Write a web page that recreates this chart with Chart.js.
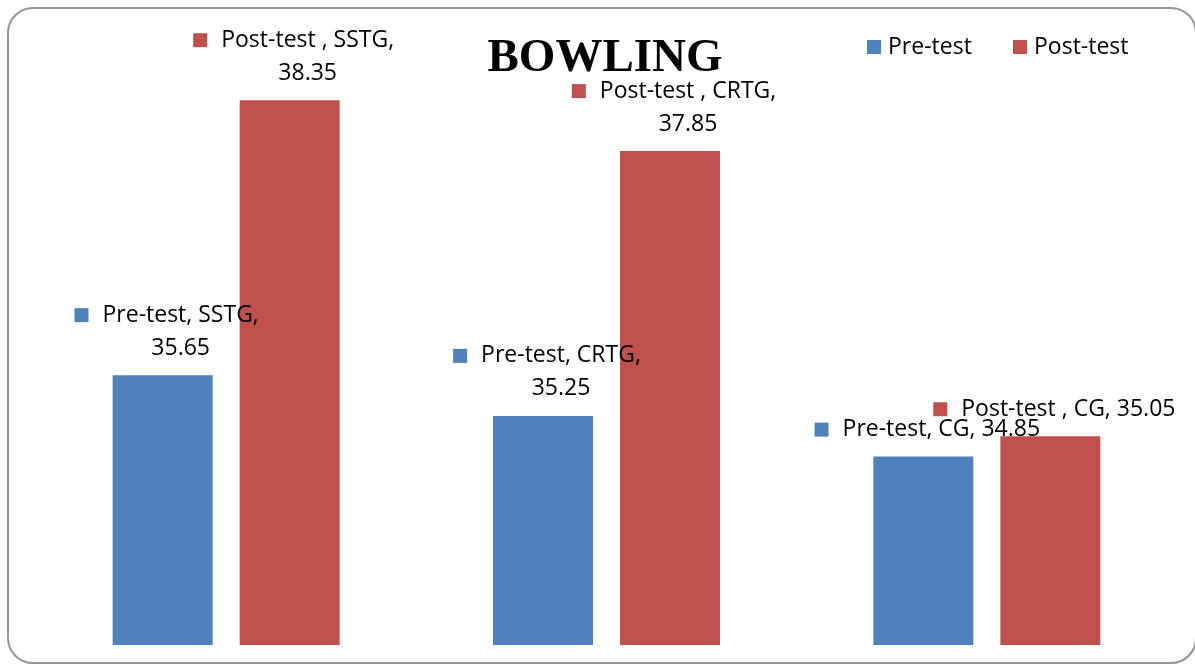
<!DOCTYPE html>
<html>
<head>
<meta charset="utf-8">
<script src="https://cdn.jsdelivr.net/npm/chart.js@4/dist/chart.umd.min.js"></script>
<style>
  html, body { margin: 0; padding: 0; background: #fff; }
  .wrap { position: relative; width: 1195px; height: 671px; overflow: hidden; }
  .frame {
    position: absolute; left: 7px; top: 7px; width: 1190px; height: 657px;
    border: 2px solid #969696; border-radius: 26px; box-sizing: border-box;
  }
  canvas { position: absolute; left: 0; top: 0; }
</style>
</head>
<body>
<div class="wrap">
  <div class="frame"></div>
  <canvas id="chart" width="1195" height="671"></canvas>
</div>
<script>
const title = 'BOWLING'
const categories = ['SSTG', 'CRTG', 'CG']
const preTest = [35.65, 35.25, 34.85]
const postTest = [38.35, 37.85, 35.05]
const legendNames = ['Pre-test', 'Post-test']
// Excel kept a trailing space on the second series name, it shows in the labels
const labelNames = ['Pre-test', 'Post-test ']
const wrapLabel = [true, true, false]
const colors = ['#4F81BD', '#C0504D']

const labelFont = '23px "Open Sans"'

const overlay = {
  id: 'overlay',
  afterDatasetsDraw(chart) {
    const ctx = chart.ctx
    ctx.save()
    ctx.textBaseline = 'middle'
    ctx.font = labelFont

    chart.data.datasets.forEach((ds, di) => {
      const meta = chart.getDatasetMeta(di)
      meta.data.forEach((bar, i) => {
        const value = ds.data[i].toFixed(2)
        let lines
        if (wrapLabel[i]) lines = [`${labelNames[di]}, ${categories[i]},`, value]
        else lines = [`${labelNames[di]}, ${categories[i]}, ${value}`]

        const w1 = ctx.measureText(lines[0]).width
        const blockW = 14 + 14 + w1
        const left = bar.x - blockW / 2 + 4
        const textLeft = left + 28
        const y1 = lines.length > 1 ? bar.y - 60 : bar.y - 27

        ctx.fillStyle = colors[di]
        ctx.fillRect(left, y1 - 7, 14, 14)
        ctx.fillStyle = '#000'
        ctx.textAlign = 'left'
        ctx.fillText(lines[0], textLeft, y1)
        if (lines.length > 1) {
          ctx.textAlign = 'center'
          ctx.fillText(lines[1], textLeft + w1 / 2, bar.y - 27)
        }
      })
    })

    // title
    ctx.fillStyle = '#000'
    ctx.textAlign = 'center'
    ctx.textBaseline = 'alphabetic'
    ctx.font = 'bold 47px "Liberation Serif"'
    ctx.fillText(title, 605, 71)

    // legend
    ctx.font = labelFont
    ctx.textAlign = 'left'
    ctx.textBaseline = 'middle'
    const legendX = [867, 1013]
    legendNames.forEach((name, k) => {
      ctx.fillStyle = colors[k]
      ctx.fillRect(legendX[k], 40, 14, 14)
      ctx.fillStyle = '#000'
      ctx.fillText(name, legendX[k] + 21, 47)
    })
    ctx.restore()
  }
}

new Chart(document.getElementById('chart'), {
  type: 'bar',
  data: {
    labels: categories,
    datasets: [
      { label: legendNames[0], data: preTest, backgroundColor: colors[0] },
      { label: legendNames[1], data: postTest, backgroundColor: colors[1] }
    ]
  },
  options: {
    responsive: false,
    animation: false,
    layout: { padding: { top: 34, bottom: 26, left: 36, right: 18 } },
    datasets: {
      bar: { categoryPercentage: 0.668, barPercentage: 0.787 }
    },
    plugins: {
      legend: { display: false },
      title: { display: false },
      tooltip: { enabled: false }
    },
    scales: {
      x: { display: false },
      y: { display: false, min: 33, max: 39 }
    }
  },
  plugins: [overlay]
})
</script>
</body>
</html>
